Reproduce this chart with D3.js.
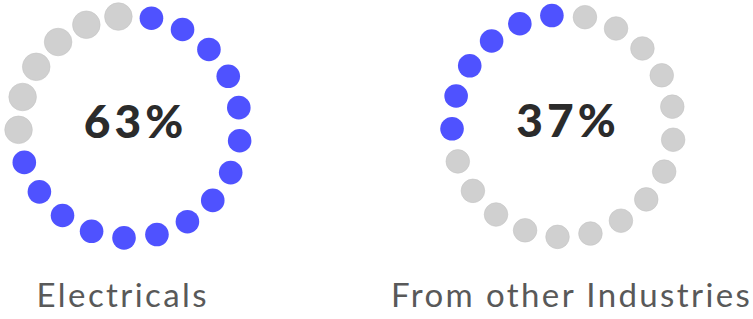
<!DOCTYPE html>
<html>
<head>
<meta charset="utf-8">
<script src="https://cdn.jsdelivr.net/npm/d3@7"></script>
<style>
  body { margin: 0; background: #fff; }
  svg { display: block; }
</style>
</head>
<body>
<svg width="753" height="319"></svg>
<script>
// data
var categories = ["Electricals", "From other Industries"];
var percentLabels = ["63%", "37%"];
var highlightCount = [15, 6];     // blue dots in each ring
var highlightFrom = [0, 15];      // index of the first blue dot (clockwise from top)
var dotsPerRing = 21;

//define what we have
var width = 753,
  height = 319,
  ringRadius = 111,
  ringCenters = [[129.5, 127], [563, 126]];

var blue = "#4f52ff",
  grey = "#d0d0d0";

var svg = d3.select("svg");

// angle of each dot, clockwise from twelve o'clock
var startAngle = 11.4 * Math.PI / 180;
var angle = d3.scaleLinear()
  .domain([0, dotsPerRing])
  .range([startAngle, startAngle + 2 * Math.PI]);

var rings = svg.selectAll("g.ring")
  .data(categories)
  .enter().append("g")
  .attr("class", "ring")
  .attr("transform", function(d, i) { return "translate(" + ringCenters[i][0] + "," + ringCenters[i][1] + ")"; });

rings.each(function(cat, i) {
  var g = d3.select(this);
  var dots = d3.range(dotsPerRing).map(function(k) {
    var on = k >= highlightFrom[i] && k < highlightFrom[i] + highlightCount[i];
    return { k: k, on: on };
  });
  g.selectAll("circle")
    .data(dots)
    .enter().append("circle")
    .attr("cx", function(d) { return ringRadius * Math.sin(angle(d.k)); })
    .attr("cy", function(d) { return -ringRadius * Math.cos(angle(d.k)); })
    .attr("r", function(d) { return (!d.on && i == 0) ? 13.8 : 11.8; })
    .attr("fill", function(d) { return d.on ? blue : grey; })
    .attr("stroke", function(d) { return d.on ? "none" : "#c4c4c4"; })
    .attr("stroke-width", 0.6);

  // big number in the middle
  g.append("text")
    .attr("x", (i == 0 ? 4 : 3) + 2)
    .attr("y", 11)
    .attr("text-anchor", "middle")
    .attr("font-family", "Lato, sans-serif")
    .attr("font-weight", 900)
    .attr("font-size", 46)
    .attr("letter-spacing", 4)
    .attr("fill", "#2b2b2b")
    .text(percentLabels[i]);

  // category label underneath
  g.append("text")
    .attr("x", (i == 0 ? -8 : 7.5) + 1.2)
    .attr("y", 306.5 - ringCenters[i][1])
    .attr("text-anchor", "middle")
    .attr("font-family", "Lato, sans-serif")
    .attr("font-weight", 400)
    .attr("font-size", 33)
    .attr("letter-spacing", 2.4)
    .attr("fill", "#595959")
    .text(cat);
});
</script>
</body>
</html>
